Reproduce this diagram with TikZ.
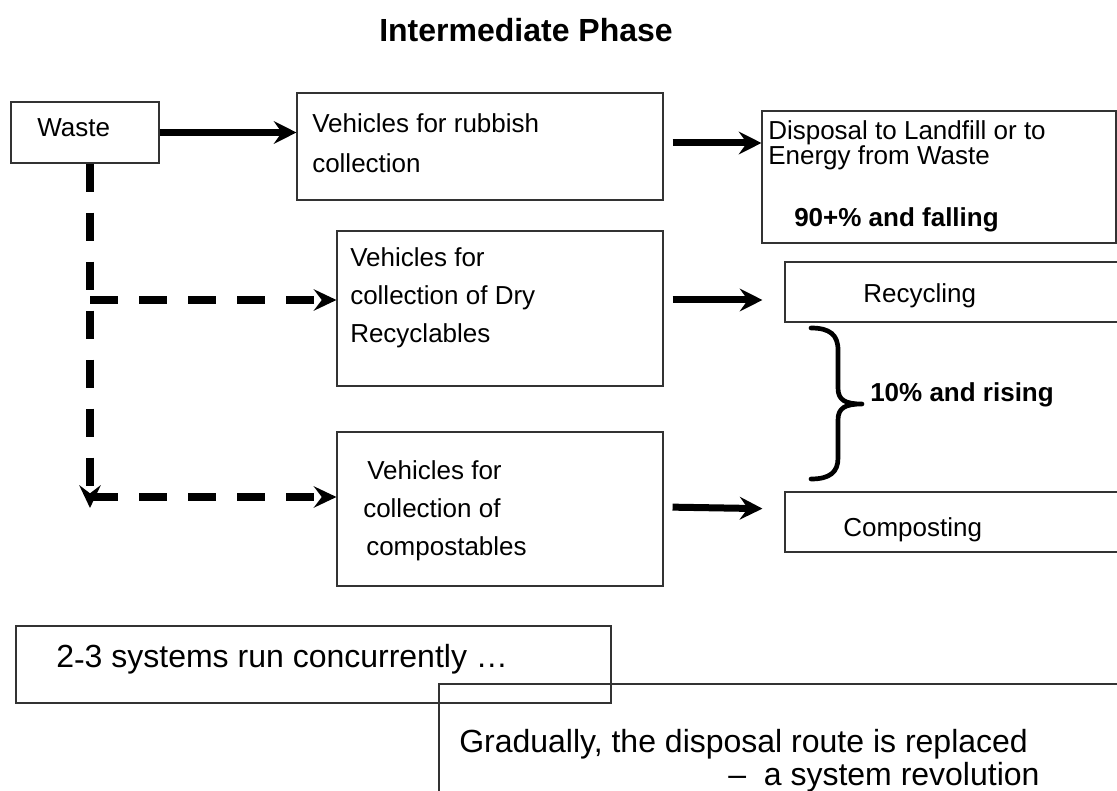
\documentclass[tikz,border=0pt]{standalone}
\usepackage{fontspec}
\setmainfont{Liberation Sans}
\usetikzlibrary{arrows.meta,calc}
\begin{document}
\begin{tikzpicture}[x=0.75pt,y=-0.75pt,
 box/.style={draw=black!80, line width=0.8pt, rectangle, inner sep=0pt},
 txt/.style={anchor=base west, inner sep=0pt, font=\fontsize{19.5}{23}\selectfont},
 btxt/.style={anchor=base west, inner sep=0pt, font=\fontsize{19.5}{23}\selectfont\bfseries},
 bigtxt/.style={anchor=base west, inner sep=0pt, font=\fontsize{24}{28}\selectfont},
 titletxt/.style={anchor=base west, inner sep=0pt, font=\fontsize{24}{28}\selectfont\bfseries},
 solidarr/.style={line width=5.25pt, -{Stealth[length=17pt,width=17pt,inset=6pt]}},
 dasharr/.style={line width=6pt, dash pattern=on 21pt off 15.75pt, -{Stealth[length=17pt,width=16pt,inset=6pt]}},
 bracestyle/.style={line width=3.5pt, line cap=round, line join=round},
]
\useasboundingbox (0,0) rectangle (1117,791);
\clip (0,0) rectangle (1117,791);

% boxes
\node[box, minimum width=111pt, minimum height=45.75pt] (waste) at (85,132.5) {};
\node[box, minimum width=274.5pt, minimum height=80.25pt] (rub) at (480,146.5) {};
\node[box, minimum width=265.5pt, minimum height=99pt] (disp) at (939,177) {};
\node[box, minimum width=244.5pt, minimum height=116.25pt] (dry) at (500,308.5) {};
\node[box, minimum width=244.5pt, minimum height=115.5pt] (comp) at (500,509) {};
\node[box, minimum width=258.75pt, minimum height=45pt] (recyc) at (957.5,292) {};
\node[box, minimum width=258.75pt, minimum height=45pt] (compo) at (957.5,522) {};
\node[box, minimum width=446.25pt, minimum height=57.75pt] (sys) at (313.5,664.5) {};
\node[box, minimum width=518.25pt, minimum height=87pt] (grad) at (784.5,742) {};

% texts
\node[titletxt] (title) at (379,42) {Intermediate Phase};
\node[txt] (twaste) at (37,137) {Waste};
\node[txt] (trub1) at (312,133) {Vehicles for rubbish};
\node[txt] (trub2) at (312,173) {collection};
\node[txt] (tdisp1) at (768,140) {Disposal to Landfill or to};
\node[txt] (tdisp2) at (768,165) {Energy from Waste};
\node[btxt] (tdisp3) at (794,227) {90+\% and falling};
\node[txt] (tdry1) at (350,267) {Vehicles for};
\node[txt] (tdry2) at (350,305) {collection of Dry};
\node[txt] (tdry3) at (350,343) {Recyclables};
\node[txt] (trecyc) at (863,303) {Recycling};
\node[btxt] (trising) at (870,402) {10\% and rising};
\node[txt] (tcomp1) at (367,479) {Vehicles for};
\node[txt] (tcomp2) at (363,517) {collection of};
\node[txt] (tcomp3) at (366,555) {compostables};
\node[txt] (tcompo) at (843,536) {Composting};
\node[bigtxt] (tsys) at (56,667) {2\raisebox{-0.12em}{-}3 systems run concurrently …};
\node[bigtxt] (tgrad1) at (459,752) {Gradually, the disposal route is replaced};
\node[bigtxt] (tgrad2) at (728,785) {– \ a system revolution};

% solid arrows
\draw[solidarr] (waste.east) -- (waste.east -| rub.west);
\draw[solidarr, shorten <=6.75pt] (rub.east |- 0,143) -- (disp.west |- 0,143);
\draw[solidarr, shorten <=6.75pt, shorten >=16.5pt] (dry.east |- 0,300) -- (recyc.west |- 0,300);
\draw[solidarr, shorten <=6.75pt, shorten >=16.5pt] (comp.east |- 0,507) -- (compo.west |- 0,509);

% dashed arrows
\coordinate (vbot) at (90,508);
\coordinate (j1) at (90,300);
\coordinate (j2) at (90,497);
\draw[dasharr] (waste.south -| vbot) -- (vbot);
\draw[dasharr] (j1) -- (dry.west |- j1);
\draw[dasharr] (j2) -- (comp.west |- j2);

% brace
\draw[bracestyle] (811,328) .. controls (830,328) and (838,335) .. (838,350)
  -- (838,388) .. controls (838,400) and (845,404) .. (862,404)
  .. controls (845,404) and (838,408) .. (838,420)
  -- (838,458) .. controls (838,472) and (830,479) .. (811,479);
\end{tikzpicture}
\end{document}
